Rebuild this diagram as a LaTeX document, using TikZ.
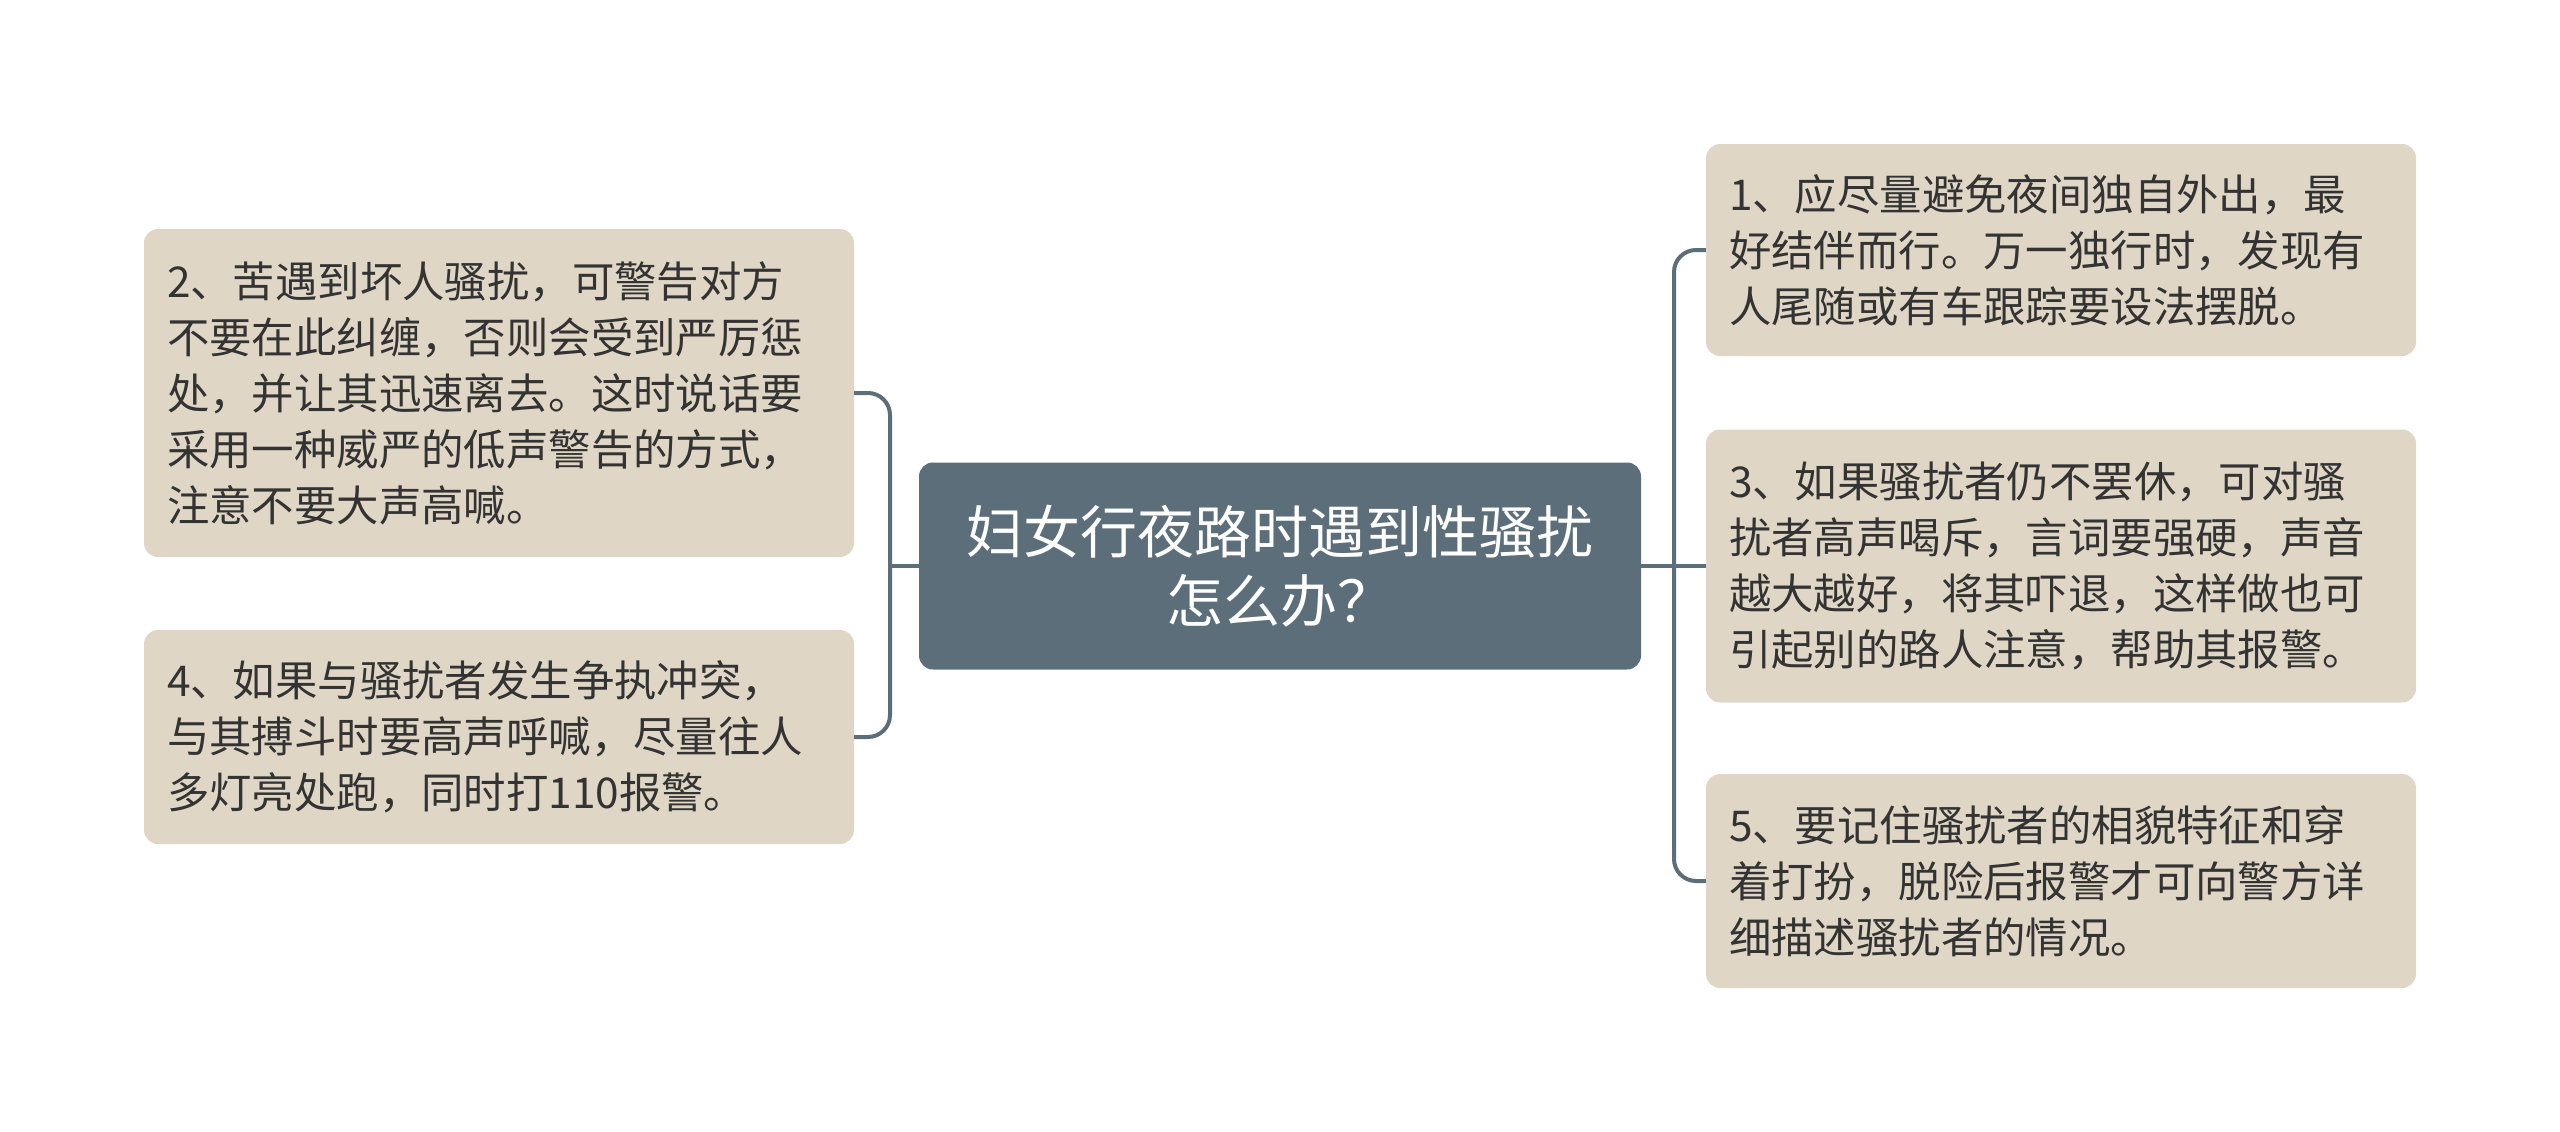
\documentclass[tikz,border=0pt]{standalone}
\usepackage{fontspec}
\newfontfamily\cjk{Noto Sans CJK SC}
\definecolor{slate}{HTML}{5B6E7A}
\definecolor{leaf}{HTML}{E0D6C5}
\definecolor{ink}{HTML}{333333}
\begin{document}
\begin{tikzpicture}[x=1pt,y=-1pt,
  leafbox/.style={fill=leaf, rounded corners=14pt, minimum width=710pt, text width=664pt, inner xsep=23pt, inner ysep=0pt, align=left, text=ink, font=\cjk\fontsize{42.4pt}{56pt}\selectfont},
  rootbox/.style={fill=slate, rounded corners=14pt, minimum width=722pt, minimum height=207pt, align=center, text=white, font=\cjk\fontsize{57pt}{69pt}\selectfont},
  conn/.style={draw=slate, line width=4pt, rounded corners=22pt}]
\useasboundingbox (0,0) rectangle (2560,1132);
\node[rootbox] (c) at (1280,566) {妇女行夜路时遇到性骚扰\\怎么办？};
\node[leafbox, minimum height=328pt] (n2) at (499,393) {2、苦遇到坏人骚扰，可警告对方\\不要在此纠缠，否则会受到严厉惩\\处，并让其迅速离去。这时说话要\\采用一种威严的低声警告的方式，\\注意不要大声高喊。};
\node[leafbox, minimum height=214pt] (n4) at (499,737) {4、如果与骚扰者发生争执冲突，\\与其搏斗时要高声呼喊，尽量往人\\多灯亮处跑，同时打110报警。};
\node[leafbox, minimum height=212pt] (n1) at (2061,250) {1、应尽量避免夜间独自外出，最\\好结伴而行。万一独行时，发现有\\人尾随或有车跟踪要设法摆脱。};
\node[leafbox, minimum height=273pt] (n3) at (2061,566) {3、如果骚扰者仍不罢休，可对骚\\扰者高声喝斥，言词要强硬，声音\\越大越好，将其吓退，这样做也可\\引起别的路人注意，帮助其报警。};
\node[leafbox, minimum height=214pt] (n5) at (2061,881) {5、要记住骚扰者的相貌特征和穿\\着打扮，脱险后报警才可向警方详\\细描述骚扰者的情况。};
\coordinate (lj) at (890,566);
\coordinate (rj) at (1674,566);
\draw[conn] (c.west) -- (lj);
\draw[conn] (lj) |- (n2.east);
\draw[conn] (lj) |- (n4.east);
\draw[conn] (c.east) -- (rj);
\draw[conn] (rj) |- (n1.west);
\draw[conn] (rj) -- (n3.west);
\draw[conn] (rj) |- (n5.west);
\end{tikzpicture}
\end{document}
